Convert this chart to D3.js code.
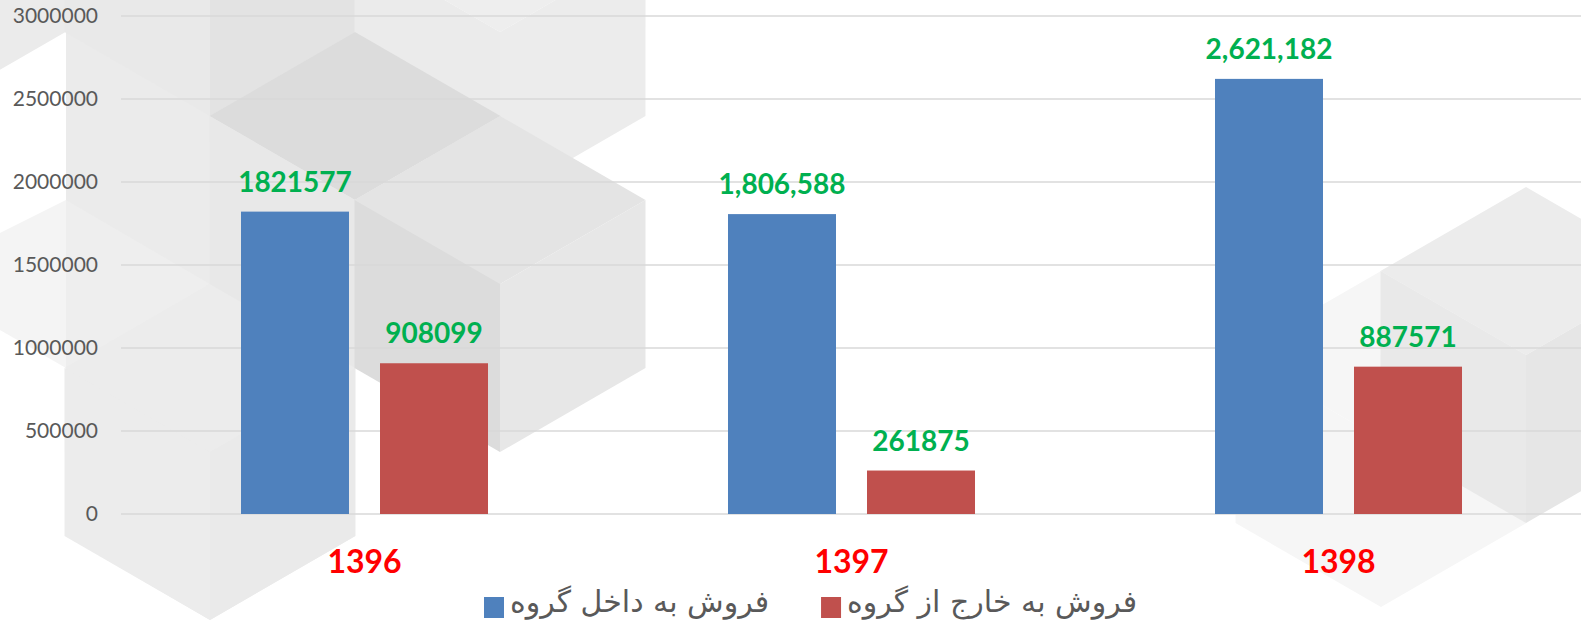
<!DOCTYPE html>
<meta charset="utf-8">
<script src="https://d3js.org/d3.v7.min.js"></script>
<style>
  body { margin: 0; background: #fff; }
</style>
<svg id="chart" width="1581" height="627"></svg>
<script>

var years = ["1396", "1397", "1398"]
var series = ["فروش به داخل گروه", "فروش به خارج از گروه"]
var inside = [1821577, 1806588, 2621182]
var outside = [908099, 261875, 887571]
var insideLabels = ["1821577", "1,806,588", "2,621,182"]
var outsideLabels = ["908099", "261875", "887571"]
var yTicks = [0, 500000, 1000000, 1500000, 2000000, 2500000, 3000000]
var colors = ["#4f81bd", "#c0504d"]

var width = 1581, height = 627
var svg = d3.select("#chart")

// background cubes (decoration only)
var s = 168, hw = s * Math.sqrt(3) / 2
var cubes = [
  [-80, -52, "#ebebeb", "#ebebeb", "#ebebeb"],
  [210, -52, "#ebebeb", "#e9e9e9", "#e3e3e3"],
  [500, 32, "#eeeeee", "#ebebeb", "#ececec"],
  [210, 452, "#ececec", "#ececec", "#eaeaea"],
  [355, 200, "#dcdcdc", "#e8e8e8", "#e4e4e4"],
  [500, 284, "#e4e4e4", "#dcdcdc", "#e7e7e7"],
  [1381, 439, "#f6f6f6", "#f6f6f6", "#f6f6f6"],
  [1526, 355, "#ececec", "#e9e9e9", "#e6e6e6"]
]
var bg = svg.append("g")
bg.append("polygon").attr("points", "0,233 66,200 66,368 0,330").attr("fill", "#f4f4f4")
bg.append("polygon").attr("points", "66,0 355,0 355,536 210,620 66,536").attr("fill", "#ebebeb")
bg.append("polygon").attr("points", "66,200 210,284 66,368").attr("fill", "#eeeeee")
cubes.forEach(function(c) {
  var cx = c[0], cy = c[1]
  var T = [cx, cy - s], UR = [cx + hw, cy - s / 2], LR = [cx + hw, cy + s / 2],
      B = [cx, cy + s], LL = [cx - hw, cy + s / 2], UL = [cx - hw, cy - s / 2], C = [cx, cy]
  var faces = [[T, UR, C, UL], [UL, C, B, LL], [C, UR, LR, B]]
  faces.forEach(function(f, i) {
    bg.append("polygon").attr("points", f.join(" ")).attr("fill", c[2 + i])
  })
})

var x0 = d3.scaleBand().domain(years).range([121, 1582]).padding(0)
var x1 = d3.scaleBand().domain([0, 1])
  .range([x0.bandwidth() * 0.2464, x0.bandwidth() * 0.7536]).paddingInner(0.223)
var y = d3.scaleLinear().domain([0, 3000000]).range([514, 16])

// gridlines
svg.append("g").selectAll("line").data(yTicks).enter().append("line")
  .attr("x1", 121).attr("x2", width)
  .attr("y1", function(d) { return y(d) }).attr("y2", function(d) { return y(d) })
  .attr("stroke", "#d9d9d9").attr("stroke-width", 1.6)

// y axis labels
var yAxis = d3.axisLeft(y).tickValues(yTicks).tickSize(0).tickPadding(0)
  .tickFormat(function(d) { return String(d) })
var ya = svg.append("g").attr("transform", "translate(98,0)").call(yAxis)
ya.select(".domain").remove()
ya.selectAll("text").attr("fill", "#595959").style("font-family", "Lato, 'Open Sans', sans-serif")
  .style("font-size", "21px")

var rows = years.map(function(yr, i) {
  return { year: yr, vals: [inside[i], outside[i]], labels: [insideLabels[i], outsideLabels[i]] }
})

var groups = svg.append("g").selectAll("g").data(rows).enter().append("g")
  .attr("transform", function(d) { return "translate(" + x0(d.year) + ",0)" })

groups.selectAll("rect").data(function(d) { return d.vals }).enter().append("rect")
  .attr("x", function(d, i) { return x1(i) })
  .attr("y", function(d) { return y(d) })
  .attr("width", x1.bandwidth())
  .attr("height", function(d) { return y(0) - y(d) })
  .attr("fill", function(d, i) { return colors[i] })

groups.selectAll("text.val").data(function(d) { return d.labels.map(function(l, i) { return [l, d.vals[i]] }) })
  .enter().append("text").attr("class", "val")
  .attr("x", function(d, i) { return x1(i) + x1.bandwidth() / 2 })
  .attr("y", function(d) { return y(d[1]) - 20 })
  .attr("text-anchor", "middle")
  .attr("fill", "#00b050")
  .style("font-family", "Lato, 'Open Sans', sans-serif")
  .style("font-weight", "bold")
  .style("font-size", "28px")
  .text(function(d) { return d[0] })

// year labels
svg.append("g").selectAll("text").data(years).enter().append("text")
  .attr("x", function(d) { return x0(d) + x0.bandwidth() / 2 })
  .attr("y", 573)
  .attr("text-anchor", "middle")
  .attr("fill", "#ff0000")
  .style("font-family", "Lato, 'Open Sans', sans-serif")
  .style("font-weight", "bold")
  .style("font-size", "32px")
  .text(function(d) { return d })

// legend
var legend = svg.append("g")
var lx = 484
series.forEach(function(name, i) {
  legend.append("rect").attr("x", lx).attr("y", 597).attr("width", 20).attr("height", 21)
    .attr("fill", colors[i])
  var t = legend.append("text").attr("x", lx + 26).attr("y", 612)
    .attr("fill", "#595959")
    .style("font-family", "'DejaVu Sans', sans-serif")
    .style("font-size", "30px")
    .text(name)
  lx = lx + 26 + t.node().getComputedTextLength() + 52
})

</script>
